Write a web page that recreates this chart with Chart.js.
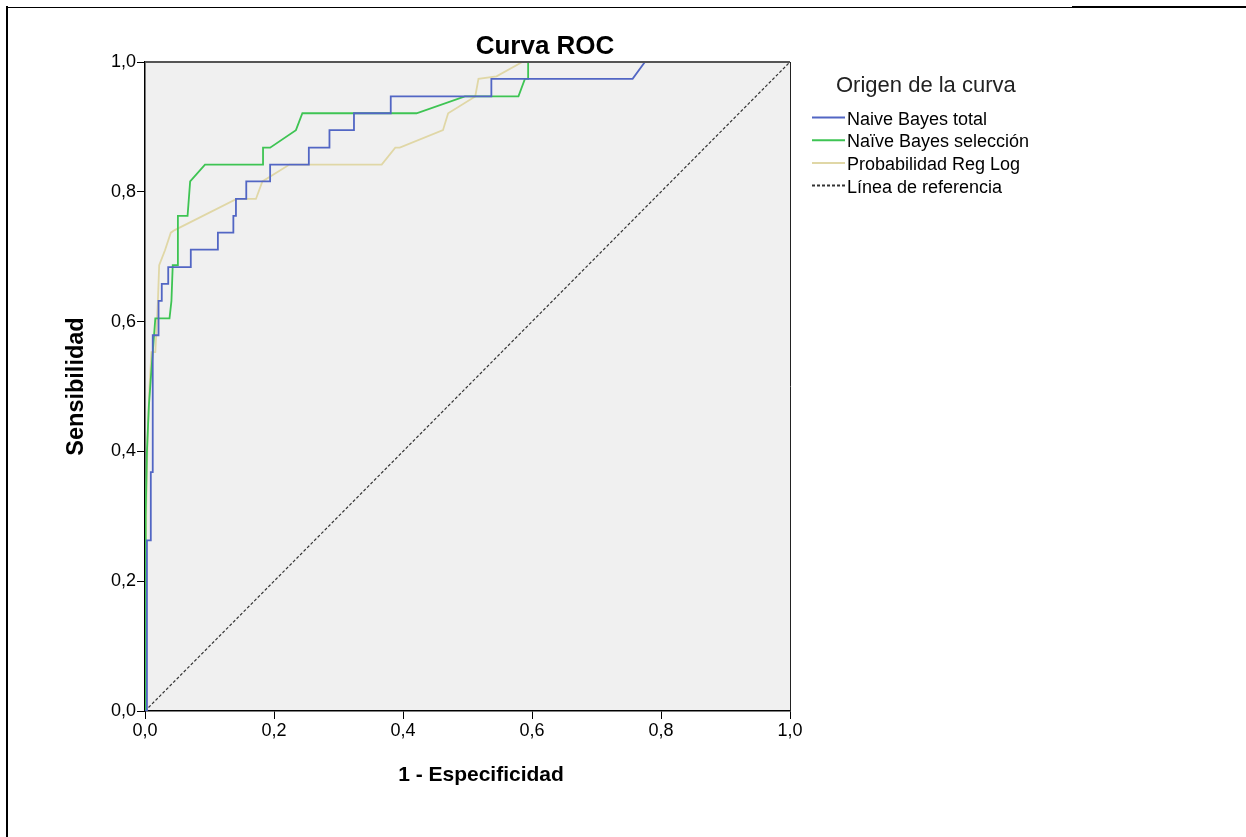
<!DOCTYPE html>
<html lang="es">
<head>
<meta charset="utf-8">
<title>Curva ROC</title>
<script src="https://cdn.jsdelivr.net/npm/chart.js@4.4.1/dist/chart.umd.min.js"></script>
<style>
  html, body { margin: 0; padding: 0; background: #fff; overflow: hidden; }
  #wrap { position: relative; width: 1246px; height: 837px; }
  .frame { position: absolute; background: #000; }
</style>
</head>
<body>
<div id="wrap">
  <canvas id="roc"></canvas>
  <div class="frame" style="left:6px; top:6px; width:2px; height:831px;"></div>
  <div class="frame" style="left:6px; top:7px; width:1066px; height:1px;"></div>
  <div class="frame" style="left:1072px; top:6px; width:174px; height:2px;"></div>
</div>
<script>
// data (1 - especificidad, sensibilidad)
const nbTotalX = [0, 0.003, 0.003, 0.009, 0.009, 0.012, 0.012, 0.021, 0.021, 0.026, 0.026, 0.036, 0.036, 0.071, 0.071, 0.113, 0.113, 0.137, 0.137, 0.141, 0.141, 0.157, 0.157, 0.194, 0.194, 0.254, 0.254, 0.286, 0.286, 0.324, 0.324, 0.381, 0.381, 0.537, 0.537, 0.756, 0.775, 1];
const nbTotalY = [0, 0, 0.263, 0.263, 0.368, 0.368, 0.579, 0.579, 0.632, 0.632, 0.658, 0.658, 0.684, 0.684, 0.711, 0.711, 0.737, 0.737, 0.763, 0.763, 0.789, 0.789, 0.816, 0.816, 0.842, 0.842, 0.868, 0.868, 0.895, 0.895, 0.921, 0.921, 0.947, 0.947, 0.974, 0.974, 1, 1];

const nbSelX = [0, 0.001, 0.003, 0.006, 0.010, 0.016, 0.038, 0.041, 0.043, 0.051, 0.051, 0.066, 0.070, 0.093, 0.183, 0.183, 0.194, 0.234, 0.244, 0.421, 0.496, 0.579, 0.589, 0.594, 0.594, 1];
const nbSelY = [0, 0.30, 0.40, 0.47, 0.526, 0.605, 0.605, 0.632, 0.687, 0.687, 0.763, 0.763, 0.816, 0.842, 0.842, 0.868, 0.868, 0.895, 0.921, 0.921, 0.947, 0.947, 0.974, 0.974, 1, 1];

const regLogX = [0, 0.002, 0.004, 0.007, 0.010, 0.016, 0.020, 0.022, 0.031, 0.040, 0.046, 0.142, 0.172, 0.182, 0.224, 0.367, 0.388, 0.395, 0.462, 0.465, 0.470, 0.512, 0.517, 0.545, 0.585, 1];
const regLogY = [0, 0.316, 0.42, 0.50, 0.553, 0.553, 0.632, 0.687, 0.710, 0.737, 0.741, 0.789, 0.789, 0.816, 0.842, 0.842, 0.868, 0.868, 0.895, 0.905, 0.921, 0.947, 0.974, 0.978, 1, 1];

const refX = [0, 1];
const refY = [0, 1];

const seriesNames = ["Naive Bayes total", "Naïve Bayes selección", "Probabilidad Reg Log", "Línea de referencia"];
const tickLabels = ["0,0", "0,2", "0,4", "0,6", "0,8", "1,0"];

const FONT = "'Liberation Sans', Arial, sans-serif";

const toPoints = (xs, ys) => xs.map((x, i) => ({ x: x, y: ys[i] }));

// plot background, frame, titles and the legend box on the right
const rocDecor = {
  id: "rocDecor",
  beforeDraw(chart) {
    const { ctx, chartArea: a } = chart;
    ctx.save();
    ctx.fillStyle = "#f0f0f0";
    ctx.fillRect(a.left, a.top, a.right - a.left, a.bottom - a.top);
    ctx.restore();
  },
  afterDraw(chart) {
    const { ctx, chartArea: a } = chart;
    ctx.save();
    ctx.strokeStyle = "#555";
    ctx.lineWidth = 2;
    ctx.beginPath();
    ctx.moveTo(a.left, a.top);
    ctx.lineTo(a.right, a.top);
    ctx.stroke();
    ctx.strokeStyle = "#222";
    ctx.lineWidth = 1;
    ctx.beginPath();
    ctx.moveTo(a.right + 0.5, a.top);
    ctx.lineTo(a.right + 0.5, a.bottom);
    ctx.stroke();

    ctx.fillStyle = "#000";
    ctx.font = "bold 26px " + FONT;
    ctx.textAlign = "center";
    ctx.textBaseline = "alphabetic";
    ctx.fillText("Curva ROC", 545, 54);

    ctx.font = "bold 21px " + FONT;
    ctx.fillText("1 - Especificidad", 481, 781);

    ctx.textAlign = "left";
    ctx.fillStyle = "#222";
    ctx.font = "22px " + FONT;
    ctx.fillText("Origen de la curva", 836, 92);

    ctx.font = "18px " + FONT;
    chart.data.datasets.forEach((ds, i) => {
      const ly = 117.5 + i * 22.7;
      ctx.strokeStyle = ds.borderColor;
      ctx.lineWidth = 2;
      ctx.setLineDash(ds.borderDash || []);
      ctx.beginPath();
      ctx.moveTo(812, ly);
      ctx.lineTo(845, ly);
      ctx.stroke();
      ctx.setLineDash([]);
      ctx.fillStyle = "#000";
      ctx.fillText(ds.label, 847, ly + 7);
    });
    ctx.restore();
  }
};

const ctx = document.getElementById("roc").getContext("2d");
new Chart(ctx, {
  type: "line",
  data: {
    datasets: [
      { label: seriesNames[0], data: toPoints(nbTotalX, nbTotalY), borderColor: "#5266c4", borderWidth: 1.8 },
      { label: seriesNames[1], data: toPoints(nbSelX, nbSelY), borderColor: "#3ec453", borderWidth: 1.8 },
      { label: seriesNames[2], data: toPoints(regLogX, regLogY), borderColor: "#e0d7a6", borderWidth: 1.8 },
      { label: seriesNames[3], data: toPoints(refX, refY), borderColor: "#333", borderWidth: 1.2, borderDash: [3, 2] }
    ]
  },
  options: {
    responsive: true,
    maintainAspectRatio: false,
    animation: false,
    layout: { padding: { top: 62, right: 456, bottom: 0, left: 0 } },
    elements: { point: { radius: 0, hoverRadius: 0 }, line: { tension: 0, fill: false } },
    plugins: { legend: { display: false }, title: { display: false }, tooltip: { enabled: false } },
    scales: {
      x: {
        type: "linear",
        min: 0,
        max: 1,
        ticks: {
          stepSize: 0.2,
          color: "#000",
          padding: 1,
          maxRotation: 0,
          font: { family: FONT, size: 18 },
          callback: (v) => tickLabels[Math.round(v * 5)]
        },
        grid: { display: true, drawOnChartArea: false, drawTicks: true, tickLength: 8, color: "#000" },
        border: { display: true, color: "#000", width: 1.5 },
        title: { display: false },
        afterFit(axis) { axis.height = 126; }
      },
      y: {
        type: "linear",
        min: 0,
        max: 1,
        ticks: {
          stepSize: 0.2,
          color: "#000",
          padding: 1,
          font: { family: FONT, size: 18 },
          callback: (v) => tickLabels[Math.round(v * 5)]
        },
        grid: { display: true, drawOnChartArea: false, drawTicks: true, tickLength: 8, color: "#000" },
        border: { display: true, color: "#000", width: 1.5 },
        title: {
          display: true,
          text: "Sensibilidad",
          color: "#000",
          font: { family: FONT, size: 23.5, weight: "bold" },
          padding: { top: 62, bottom: 0 }
        },
        afterFit(axis) { axis.width = 145; }
      }
    }
  },
  plugins: [rocDecor]
});
</script>
</body>
</html>
